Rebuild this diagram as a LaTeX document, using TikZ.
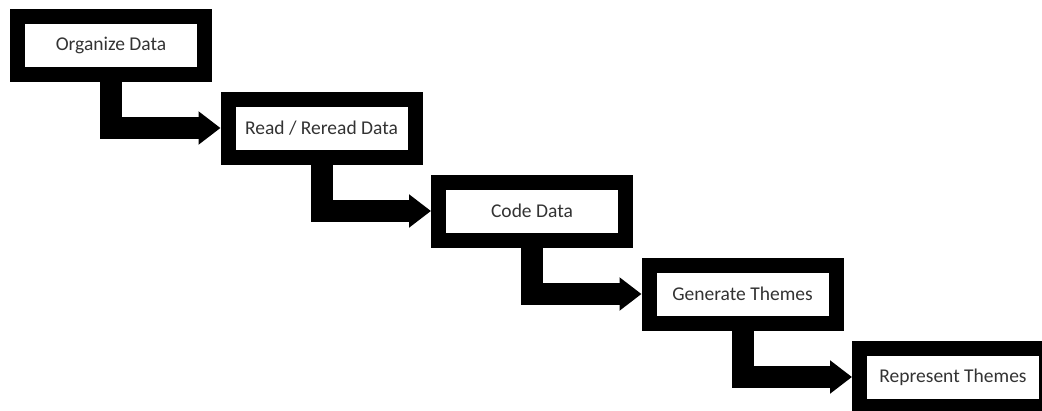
\documentclass[tikz,border=0pt]{standalone}
\usepackage{fontspec}
\setmainfont{Carlito}
\usetikzlibrary{arrows.meta}
\definecolor{labelgray}{HTML}{333333}
\tikzset{
  stepbox/.style={draw=black, line width=15pt, fill=white,
    minimum width=187pt, minimum height=58pt, inner sep=0pt,
    text=labelgray, font=\fontsize{19.5}{23}\selectfont},
  fatarrow/.style={draw=black, line width=22pt, line join=miter,
    -{Triangle[length=22pt,width=32pt]}}
}
\begin{document}
\begin{tikzpicture}[x=1pt,y=-1pt]
  \useasboundingbox (0,0) rectangle (1042,410);
  \clip (0,0) rectangle (1042,410);
  % process steps, each one down and to the right of the previous
  \node[stepbox] (s1) at (111,45)    {Organize Data};
  \node[stepbox] (s2) at (321.5,128) {Read / Reread Data};
  \node[stepbox] (s3) at (532,211)   {Code Data};
  \node[stepbox] (s4) at (742.5,294) {Generate Themes};
  \node[stepbox] (s5) at (953,377)   {Represent Themes};
  % elbow arrows from the bottom of one step to the left side of the next
  \foreach \a/\b in {s1/s2, s2/s3, s3/s4, s4/s5}{
    \draw[fatarrow] (\a.south) |- (\b.west);
  }
\end{tikzpicture}
\end{document}
